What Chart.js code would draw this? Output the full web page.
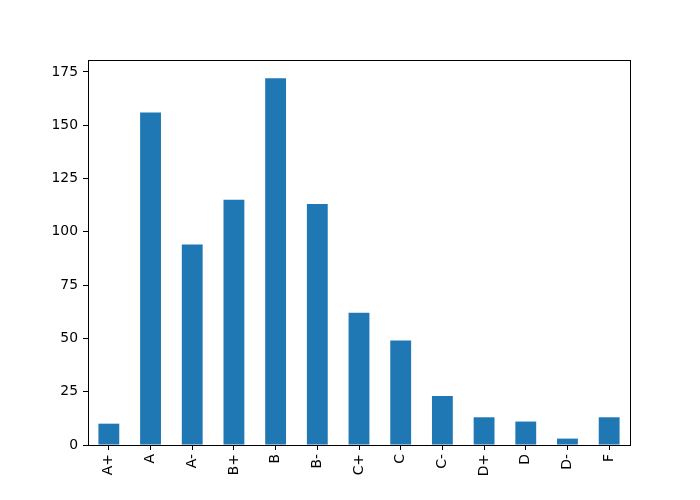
<!DOCTYPE html>
<html>
<head>
<meta charset="utf-8">
<script src="https://cdn.jsdelivr.net/npm/chart.js@4"></script>
<style>
  html, body { margin: 0; padding: 0; background: #fff; }
  canvas { display: block; }
</style>
</head>
<body>
<canvas id="chartGrades" width="700" height="500"></canvas>
<script>
// grade categories and counts
const grades = ['A+', 'A', 'A-', 'B+', 'B', 'B-', 'C+', 'C', 'C-', 'D+', 'D', 'D-', 'F'];
const counts = [10, 156, 94, 115, 172, 113, 62, 49, 23, 13, 11, 3, 13];
const yTicks = [0, 25, 50, 75, 100, 125, 150, 175];
const yMax = 180.6;

// box round the plot area (top and right edges too, like matplotlib)
const frameBox = {
  id: 'frameBox',
  afterDraw(chart) {
    const a = chart.chartArea;
    const c = chart.ctx;
    c.save();
    c.strokeStyle = '#000';
    c.lineWidth = 1;
    c.strokeRect(Math.round(a.left) + 0.5, Math.round(a.top) + 0.5,
      Math.round(a.right - a.left), Math.round(a.bottom - a.top));
    c.restore();
  }
};

const ctx = document.getElementById('chartGrades').getContext('2d');

window.chart = new Chart(ctx, {
  type: 'bar',
  data: {
    labels: grades,
    datasets: [{
      data: counts,
      backgroundColor: '#1f77b4',
      borderWidth: 0,
      categoryPercentage: 1.0,
      barPercentage: 0.5,
    }]
  },
  options: {
    responsive: false,
    animation: false,
    layout: {
      padding: { left: 0, right: 70, top: 60, bottom: 0 }
    },
    plugins: {
      legend: { display: false },
      tooltip: { enabled: false },
    },
    scales: {
      x: {
        offset: true,
        grid: {
          drawOnChartArea: false,
          color: '#000',
          tickLength: 5,
          offset: false,
        },
        border: { color: '#000' },
        ticks: {
          color: '#000',
          font: { family: 'DejaVu Sans', size: 13.9 },
          minRotation: 90,
          maxRotation: 90,
          padding: 4,
        },
        afterFit(axis) { axis.height = 55; },
      },
      y: {
        min: 0,
        max: yMax,
        afterBuildTicks(axis) {
          axis.ticks = yTicks.map(v => ({ value: v }));
        },
        grid: {
          drawOnChartArea: false,
          color: '#000',
          tickLength: 5,
        },
        border: { color: '#000' },
        ticks: {
          color: '#000',
          font: { family: 'DejaVu Sans', size: 13.9 },
          padding: 5,
        },
        afterFit(axis) { axis.width = 88; },
      }
    }
  },
  plugins: [frameBox]
});
</script>
</body>
</html>
